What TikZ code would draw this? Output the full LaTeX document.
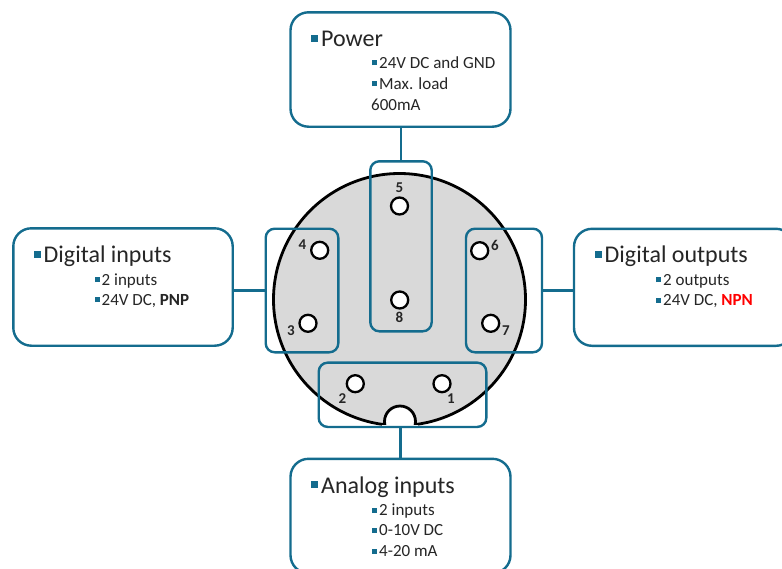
\documentclass[tikz,border=0pt]{standalone}
\usepackage{fontspec}
\setmainfont{Carlito}
\usepackage{xcolor}
\usetikzlibrary{positioning}
\definecolor{pinblue}{HTML}{146C8E}
\definecolor{discgray}{HTML}{D9D9D9}
\definecolor{inktext}{HTML}{262626}
\newcommand{\headbul}{\textcolor{pinblue}{\rule[5pt]{7pt}{7pt}}\hspace{3pt}}
\newcommand{\subbul}{\textcolor{pinblue}{\rule[3pt]{5pt}{5pt}}\hspace{2pt}}
\begin{document}
\begin{tikzpicture}[
  x=1pt, y=-1pt,
  infobox/.style={draw=pinblue, line width=2.4pt, rounded corners=18pt, fill=white},
  pingroup/.style={draw=pinblue, line width=2.4pt, rounded corners=9pt},
  link/.style={draw=pinblue, line width=2.4pt},
  hole/.style={circle, draw=black, line width=2.3pt, fill=white, minimum size=17pt, inner sep=0pt},
  pinlabel/.style={font=\fontsize{15}{15}\selectfont\bfseries, text=inktext, inner sep=0pt},
  headline/.style={anchor=base west, inner sep=0pt, text=inktext, font=\fontsize{24}{26}\selectfont},
  subline/.style={anchor=base west, inner sep=0pt, text=inktext, font=\fontsize{17}{20}\selectfont},
]
  \clip (0,0) rectangle (782,568);

  % connector body
  \node[circle, draw=black, line width=2.8pt, fill=discgray, minimum size=252pt, inner sep=0pt] (disc) at (399.5,299.5) {};
  \node[circle, draw=black, line width=2.8pt, fill=white, minimum size=31pt, inner sep=0pt] (notch) at (400,421.5) {};
  \fill[white] (382,425) rectangle (418,440);

  % pins
  \node[hole] (pin5) at (399.5,206) {};
  \node[hole] (pin8) at (399.7,300) {};
  \node[hole] (pin4) at (319.7,250.3) {};
  \node[hole] (pin3) at (308,323.3) {};
  \node[hole] (pin6) at (479.7,250.7) {};
  \node[hole] (pin7) at (490.7,323.3) {};
  \node[hole] (pin2) at (355.3,383.7) {};
  \node[hole] (pin1) at (442,383.7) {};
  \node[pinlabel] (lab5) at (399.5,188) {5};
  \node[pinlabel] (lab8) at (399.5,317.5) {8};
  \node[pinlabel] (lab4) at (302.5,244.5) {4};
  \node[pinlabel] (lab3) at (291,330.5) {3};
  \node[pinlabel] (lab6) at (495,245) {6};
  \node[pinlabel] (lab7) at (506,330.5) {7};
  \node[pinlabel] (lab2) at (342.5,398.5) {2};
  \node[pinlabel] (lab1) at (451,398.5) {1};

  % pin groups
  \node[pingroup, minimum width=61.4pt, minimum height=170pt] (grouptop) at (401,246.3) {};
  \node[pingroup, minimum width=72.6pt, minimum height=123.6pt] (groupleft) at (302,290.5) {};
  \node[pingroup, minimum width=76pt, minimum height=123.6pt] (groupright) at (504,290.5) {};
  \node[pingroup, minimum width=167.6pt, minimum height=64.3pt] (groupbottom) at (402.5,394.8) {};

  % info boxes
  \node[infobox, minimum width=220pt, minimum height=114.4pt] (power) at (400.5,69.5) {};
  \node[infobox, minimum width=219.4pt, minimum height=117.4pt] (digin) at (123,287) {};
  \node[infobox, minimum width=220pt, minimum height=117pt] (digout) at (684,287.3) {};
  \node[infobox, minimum width=220pt, minimum height=114.4pt] (analog) at (400.5,516) {};

  % links
  \draw[link] (power.south -| grouptop.north) -- (grouptop.north);
  \draw[link] (digin.east |- groupleft.west) -- (groupleft.west);
  \draw[link] (groupright.east) -- (digout.west |- groupright.east);
  \draw[link] (groupbottom.south -| analog.north) -- (analog.north);

  % power text
  \node[headline] (powerhead) at (311,46.5) {\headbul Power};
  \node[subline] (powera) at (372,68) {\subbul 24V DC and GND};
  \node[subline] (powerb) at (372,89) {\subbul Max. load};
  \node[subline] (powerc) at (371,110) {600mA};

  % digital inputs text
  \node[headline] (diginhead) at (33.5,262.5) {\headbul Digital inputs};
  \node[subline] (digina) at (94.5,285) {\subbul 2 inputs};
  \node[subline] (diginb) at (94.5,305) {\subbul 24V DC, \textbf{PNP}};

  % digital outputs text
  \node[headline] (digouthead) at (594.5,262.5) {\headbul Digital outputs};
  \node[subline] (digouta) at (656,285) {\subbul 2 outputs};
  \node[subline] (digoutb) at (656,305.5) {\subbul 24V DC, \textcolor{red}{\textbf{NPN}}};

  % analog inputs text
  \node[headline] (analoghead) at (311,493) {\headbul Analog inputs};
  \node[subline] (analoga) at (372,515.7) {\subbul 2 inputs};
  \node[subline] (analogb) at (372,535.7) {\subbul 0-10V DC};
  \node[subline] (analogc) at (372,556.7) {\subbul 4-20 mA};
\end{tikzpicture}
\end{document}
